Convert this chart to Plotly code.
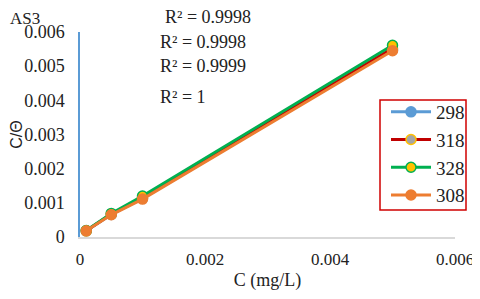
import plotly.graph_objects as go

C = [0.0001, 0.0005, 0.001, 0.005]
series_names = ["298", "318", "328", "308"]
y_298 = [0.00018, 0.00066, 0.00113, 0.00548]
y_318 = [0.00018, 0.00067, 0.00115, 0.00552]
y_328 = [0.00019, 0.00069, 0.00120, 0.00561]
y_308 = [0.00018, 0.00065, 0.00111, 0.00545]
r2_labels = ["R² = 0.9998", "R² = 0.9998", "R² = 0.9999", "R² = 1"]
x_ticks = [0, 0.002, 0.004, 0.006]
x_ticktext = ["0", "0.002", "0.004", "0.006"]
y_ticks = [0, 0.001, 0.002, 0.003, 0.004, 0.005, 0.006]
y_ticktext = ["0", "0.001", "0.002", "0.003", "0.004", "0.005", "0.006"]

styles = {
    "298": dict(line="#5B9BD5", fill="#5B9BD5", edge="#5B9BD5"),
    "318": dict(line="#C00000", fill="#A5A5A5", edge="#FFC000"),
    "328": dict(line="#00B050", fill="#FFC000", edge="#00B050"),
    "308": dict(line="#ED7D31", fill="#ED7D31", edge="#ED7D31"),
}
data = {"298": y_298, "318": y_318, "328": y_328, "308": y_308}

fig = go.Figure()
for name in series_names:
    s = styles[name]
    fig.add_trace(go.Scatter(
        x=C, y=data[name], name=name, mode="lines+markers",
        line=dict(color=s["line"], width=3),
        marker=dict(size=10, color=s["fill"], line=dict(color=s["edge"], width=1.5)),
    ))

# page body has an 8px default margin: figure is shifted 8px right/down
OFF = 8
W, H = 480 - OFF, 299 - 2 * OFF
serif = "Liberation Serif, Times New Roman, serif"
FS = 18
PX0, PX1, PY0, PY1 = 80, 455, 32, 237  # plot area in page pixels
fig.update_layout(
    width=W, height=H,
    margin=dict(l=PX0 - OFF, r=W - (PX1 - OFF), t=PY0 - OFF, b=H - (PY1 - OFF), autoexpand=False),
    paper_bgcolor="white", plot_bgcolor="white",
    font=dict(family=serif, size=FS, color="#222"),
    showlegend=True,
    legend=dict(
        xref="container", yref="container",
        x=(470 - OFF) / W, xanchor="right", y=1 - (93 - OFF) / H, yanchor="top",
        borderwidth=0, bgcolor="rgba(0,0,0,0)",
        font=dict(family=serif, size=19, color="#222"),
        itemwidth=40, tracegroupgap=0,
    ),
    xaxis=dict(
        range=[0, 0.006], tickvals=x_ticks, ticktext=x_ticktext,
        showgrid=False, zeroline=False, showline=True, linecolor="#D9D9D9", linewidth=1.5,
        ticks="", automargin=False, ticklabelstandoff=6, ticklabeloverflow="allow",
        tickfont=dict(family=serif, size=17),
        title=dict(text="C (mg/L)", font=dict(family=serif, size=FS), standoff=6),
    ),
    yaxis=dict(
        range=[0, 0.006], tickvals=y_ticks, ticktext=y_ticktext,
        showgrid=False, zeroline=False, showline=True, linecolor="#5B9BD5", linewidth=1.5,
        ticks="", ticklabelstandoff=10, automargin=False,
        title=dict(text="C/Θ", font=dict(family="Liberation Sans, Arial, sans-serif", size=16), standoff=5),
    ),
)

def px_x(p):
    return (p - PX0) / (PX1 - PX0)

def px_y(p):
    return (PY1 - p) / (PY1 - PY0)

# legend frame
fig.add_shape(type="rect", xref="paper", yref="paper",
              x0=px_x(380), x1=px_x(466), y0=px_y(210), y1=px_y(100),
              line=dict(color="#D00000", width=1.5), fillcolor="rgba(0,0,0,0)", layer="above")

fig.add_annotation(text="AS3", xref="paper", yref="paper", x=px_x(9), y=px_y(8),
                   xanchor="left", yanchor="top", showarrow=False, borderpad=0,
                   font=dict(family=serif, size=17, color="#222"))
r2_pos = [(163, 17), (158, 42), (158, 66), (158, 97)]
for txt, (px, py) in zip(r2_labels, r2_pos):
    fig.add_annotation(text=txt, xref="paper", yref="paper",
                       x=px_x(px), y=px_y(py),
                       xanchor="left", yanchor="middle", showarrow=False,
                       font=dict(family=serif, size=FS, color="#222"))

fig.write_html("out.html")
